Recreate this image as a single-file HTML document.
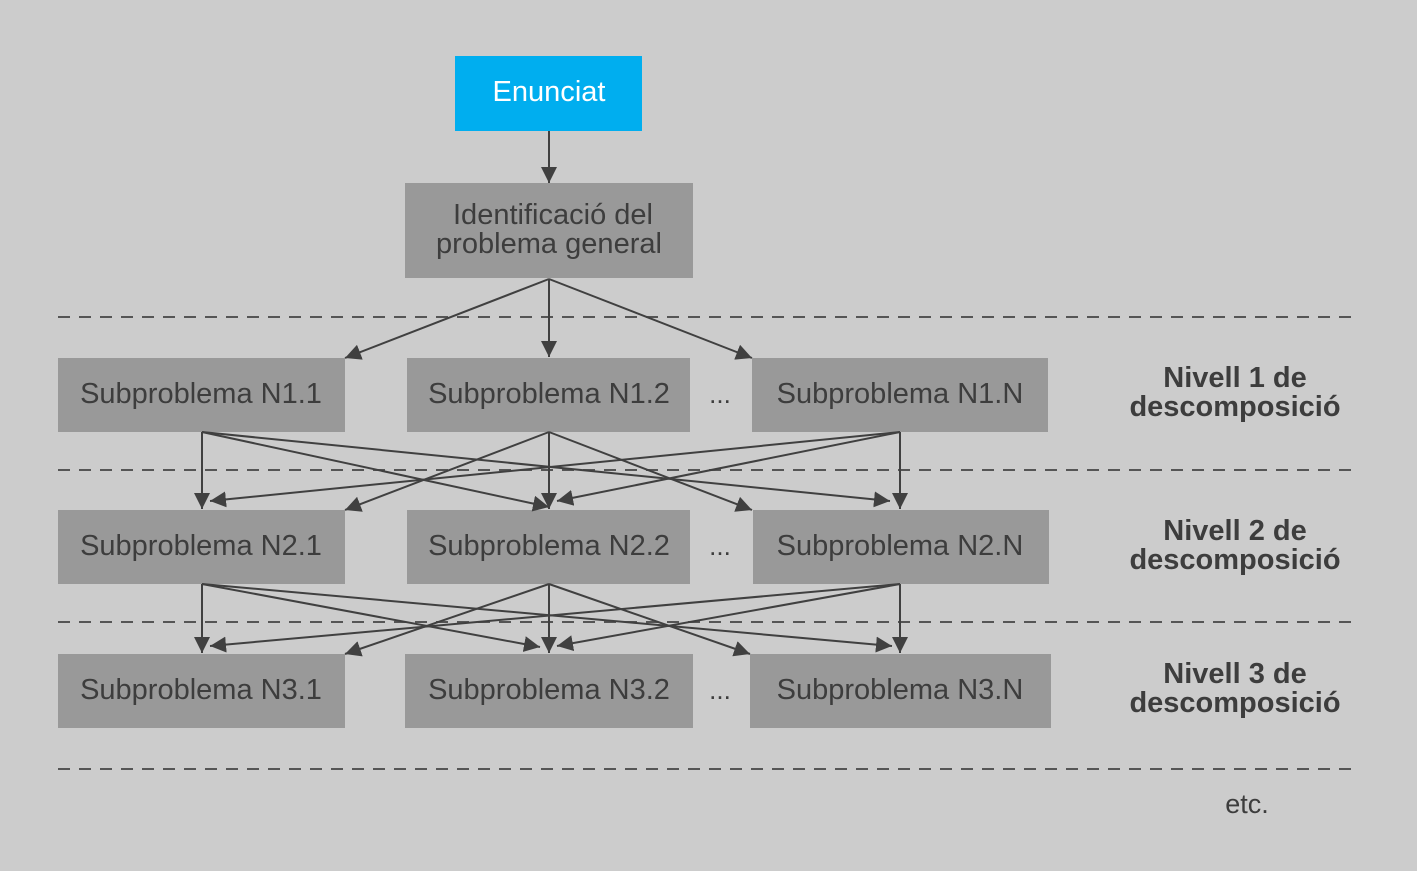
<!DOCTYPE html>
<html><head><meta charset="utf-8"><style>
html,body{margin:0;padding:0;background:#cccccc;}
svg{display:block;font-family:"Liberation Sans",Arial,sans-serif;}
</style></head><body>
<svg width="1417" height="871" viewBox="0 0 1417 871" xmlns="http://www.w3.org/2000/svg">
<defs>
<marker id="a" viewBox="0 0 10 10" refX="10" refY="5" markerWidth="16" markerHeight="16" markerUnits="userSpaceOnUse" orient="auto">
<path d="M0,0 L10,5 L0,10 z" fill="#404040"/>
</marker>
</defs>
<rect width="1417" height="871" fill="#cccccc"/>
<g stroke="#555" stroke-width="2" stroke-dasharray="12,9">
<line x1="58" y1="317" x2="1360" y2="317"/>
<line x1="58" y1="470" x2="1360" y2="470"/>
<line x1="58" y1="622" x2="1360" y2="622"/>
<line x1="58" y1="769" x2="1360" y2="769"/>
</g>
<rect x="455" y="56" width="187" height="75" fill="#00aeef"/>
<text x="549" y="101" font-size="29" fill="#fff" text-anchor="middle" textLength="113" lengthAdjust="spacingAndGlyphs">Enunciat</text>
<rect x="405" y="183" width="288" height="95" fill="#999"/>
<text x="553" y="224" font-size="29" fill="#3d3d3d" text-anchor="middle" textLength="200" lengthAdjust="spacingAndGlyphs">Identificació del</text>
<text x="549" y="253" font-size="29" fill="#3d3d3d" text-anchor="middle" textLength="226" lengthAdjust="spacingAndGlyphs">problema general</text>
<g fill="#999">
<rect x="58" y="358" width="287" height="74"/><rect x="407" y="358" width="283" height="74"/><rect x="752" y="358" width="296" height="74"/>
<rect x="58" y="510" width="287" height="74"/><rect x="407" y="510" width="283" height="74"/><rect x="753" y="510" width="296" height="74"/>
<rect x="58" y="654" width="287" height="74"/><rect x="405" y="654" width="288" height="74"/><rect x="750" y="654" width="301" height="74"/>
</g>
<g font-size="29" fill="#3d3d3d" text-anchor="middle">
<text x="201" y="403">Subproblema N1.1</text><text x="549" y="403">Subproblema N1.2</text><text x="900" y="403">Subproblema N1.N</text>
<text x="201" y="555">Subproblema N2.1</text><text x="549" y="555">Subproblema N2.2</text><text x="900" y="555">Subproblema N2.N</text>
<text x="201" y="699">Subproblema N3.1</text><text x="549" y="699">Subproblema N3.2</text><text x="900" y="699">Subproblema N3.N</text>
<text x="720" y="403" font-size="26">...</text><text x="720" y="555" font-size="26">...</text><text x="720" y="699" font-size="26">...</text>
</g>
<g font-size="29" font-weight="bold" fill="#3d3d3d" text-anchor="middle">
<text x="1235" y="387">Nivell 1 de</text><text x="1235" y="416">descomposició</text>
<text x="1235" y="540">Nivell 2 de</text><text x="1235" y="569">descomposició</text>
<text x="1235" y="683">Nivell 3 de</text><text x="1235" y="712">descomposició</text>
</g>
<text x="1247" y="813" font-size="27" fill="#3d3d3d" text-anchor="middle">etc.</text>
<g stroke="#404040" stroke-width="2" marker-end="url(#a)" fill="none">
<line x1="549" y1="131" x2="549" y2="183"/>
<line x1="549" y1="279" x2="345" y2="358"/>
<line x1="549" y1="279" x2="549" y2="357"/>
<line x1="549" y1="279" x2="752" y2="358"/>
<line x1="202" y1="432" x2="202" y2="509"/>
<line x1="202" y1="432" x2="549" y2="507"/>
<line x1="202" y1="432" x2="890" y2="501"/>
<line x1="549" y1="432" x2="345" y2="510"/>
<line x1="549" y1="432" x2="549" y2="509"/>
<line x1="549" y1="432" x2="752" y2="510"/>
<line x1="900" y1="432" x2="210" y2="501"/>
<line x1="900" y1="432" x2="557" y2="501"/>
<line x1="900" y1="432" x2="900" y2="509"/>
<line x1="202" y1="584" x2="202" y2="653"/>
<line x1="202" y1="584" x2="540" y2="647"/>
<line x1="202" y1="584" x2="892" y2="646"/>
<line x1="549" y1="584" x2="345" y2="654"/>
<line x1="549" y1="584" x2="549" y2="653"/>
<line x1="549" y1="584" x2="750" y2="654"/>
<line x1="900" y1="584" x2="210" y2="646"/>
<line x1="900" y1="584" x2="557" y2="646"/>
<line x1="900" y1="584" x2="900" y2="653"/>
</g>
</svg>
</body></html>
